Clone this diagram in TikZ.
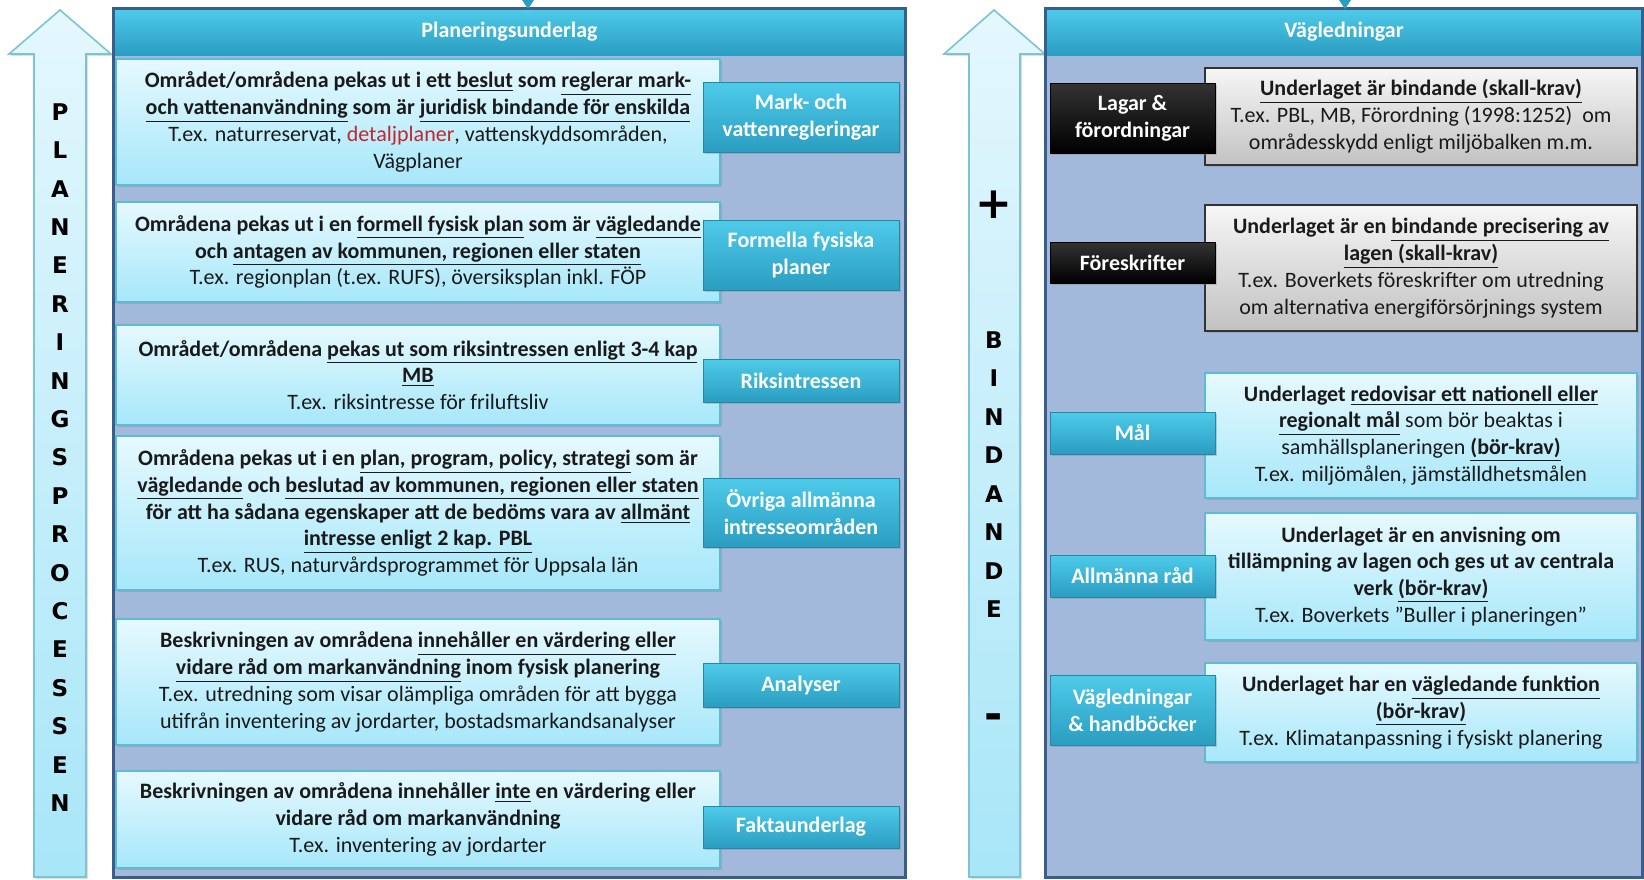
\documentclass[tikz,border=0pt]{standalone}
\usepackage{fontspec}
\setmainfont{Carlito}
\newfontfamily\letterfont{DejaVu Sans}
\usepackage{tikz}
\usetikzlibrary{shadows}

\definecolor{panelfill}{HTML}{A3B9DB}
\definecolor{paneldraw}{HTML}{3A5E8C}
\definecolor{headtop}{HTML}{4FCBEA}
\definecolor{headbot}{HTML}{2A9DC0}
\definecolor{btnline}{HTML}{2388A8}
\definecolor{boxtop}{HTML}{E6F9FE}
\definecolor{boxbot}{HTML}{A6E7FA}
\definecolor{boxdraw}{HTML}{5CBCD5}
\definecolor{arrowtop}{HTML}{E4F7FD}
\definecolor{arrowbot}{HTML}{A8E6F8}
\definecolor{arrowline}{HTML}{7CC3D4}
\definecolor{greytop}{HTML}{F6F6F6}
\definecolor{greybot}{HTML}{C2C2C2}
\definecolor{detred}{HTML}{C4262E}
\definecolor{textgrey}{HTML}{1A1A1A}

\newcommand{\undl}[1]{\underline{#1}}

\tikzset{
  panel/.style={fill=panelfill, inner sep=0pt},
  panelhead/.style={top color=headtop, bottom color=headbot, text=white,
    font=\fontsize{11}{13}\selectfont\bfseries, inner sep=0pt},
  plainbox/.style={draw=boxdraw, line width=0.6pt, top color=boxtop, bottom color=boxbot,
    align=center, inner sep=0pt, text=textgrey,
    drop shadow={shadow xshift=1pt, shadow yshift=-1.2pt, opacity=0.3}},
  leftbox/.style={plainbox, minimum width=302pt},
  greybox/.style={plainbox, draw=black!80, top color=greytop, bottom color=greybot},
  tabbtn/.style={draw=btnline, line width=0.5pt, top color=headtop, bottom color=headbot,
    text=white, align=center, inner sep=0pt, minimum width=98pt,
    font=\fontsize{11}{13.4}\selectfont\bfseries,
    drop shadow={shadow xshift=1pt, shadow yshift=-1.2pt, opacity=0.35}},
  blackbtn/.style={tabbtn, minimum width=82.5pt, draw=black, top color=black!80, bottom color=black},
  bigarrow/.style={draw=arrowline, line width=0.8pt, top color=arrowtop, bottom color=arrowbot,
    drop shadow={shadow xshift=1pt, shadow yshift=-1pt, opacity=0.25}},
  arrowletter/.style={font=\letterfont\fontsize{11.5}{13}\selectfont\bfseries, inner sep=0pt},
  signletter/.style={font=\letterfont\fontsize{22}{24}\selectfont\bfseries, inner sep=0pt},
}

\begin{document}
\begin{tikzpicture}[x=0.5pt, y=-0.5pt, font=\fontsize{11}{13.4}\selectfont]
\useasboundingbox (0,0) rectangle (1644,879);

% arrows
\draw[bigarrow] (34,877) -- (34,54) -- (9,54) -- (60,10) -- (111,54) -- (86,54) -- (86,877) -- cycle;
\draw[bigarrow] (969,877) -- (969,54) -- (944,54) -- (994,10) -- (1045,54) -- (1020,54) -- (1020,877) -- cycle;

\foreach \ch [count=\i from 0] in {P,L,A,N,E,R,I,N,G,S,P,R,O,C,E,S,S,E,N}
  \node[arrowletter] (proc\i) at (60,112+38.4*\i) {\ch};
\node[signletter] (plus) at (994,205) {+};
\foreach \ch [count=\i from 0] in {B,I,N,D,A,N,D,E}
  \node[arrowletter] (bind\i) at (994,340+38.5*\i) {\ch};
\node[signletter] (minus) at (994,722) {-};

% panels
\node[panel, minimum width=395.5pt, minimum height=434pt] (planpanel) at (509.5,443) {};
\node[panelhead, minimum width=395.5pt, minimum height=23pt] (planhead) at (509.5,32) {Planeringsunderlag};
\draw[paneldraw, line width=1.5pt] (planpanel.north west) rectangle (planpanel.south east);
\node[panel, minimum width=298pt, minimum height=434pt] (guidepanel) at (1344,443) {};
\node[panelhead, minimum width=298pt, minimum height=23pt] (guidehead) at (1344,32) {Vägledningar};
\draw[paneldraw, line width=1.5pt] (guidepanel.north west) rectangle (guidepanel.south east);
\fill[headbot] (522,0) -- (534,0) -- (528,9) -- cycle;
\fill[headbot] (1339,0) -- (1351,0) -- (1345,9) -- cycle;

% left boxes
\node[leftbox, minimum height=63pt] (mark) at (418,122) {%
  \textbf{Området/områdena pekas ut i ett \undl{beslut} som \undl{reglerar mark-}}\\
  \textbf{\undl{och vattenanvändning} som är \undl{juridisk bindande för enskilda}}\\
  T.ex. naturreservat, \textcolor{detred}{detaljplaner}, vattenskyddsområden,\\
  Vägplaner};
\node[leftbox, minimum height=50pt] (formell) at (418,252) {%
  \textbf{Områdena pekas ut i en \undl{formell fysisk plan} som är \undl{vägledande}}\\
  \textbf{och \undl{antagen av kommunen, regionen eller staten}}\\
  T.ex. regionplan (t.ex. RUFS), översiksplan inkl. FÖP};
\node[leftbox, minimum height=50pt] (riks) at (418,375) {%
  \textbf{Området/områdena \undl{pekas ut som riksintressen enligt 3-4 kap}}\\
  \textbf{\undl{MB}}\\
  T.ex. riksintresse för friluftsliv};
\node[leftbox, minimum height=77pt] (ovriga) at (418,513) {%
  \textbf{Områdena pekas ut i en \undl{plan, program, policy, strategi} som är}\\
  \textbf{\undl{vägledande} och \undl{beslutad av kommunen, regionen eller staten}}\\
  \textbf{för att ha sådana egenskaper att de bedöms vara av \undl{allmänt}}\\
  \textbf{\undl{intresse enligt 2 kap. PBL}}\\
  T.ex. RUS, naturvårdsprogrammet för Uppsala län};
\node[leftbox, minimum height=63pt] (analys) at (418,682) {%
  \textbf{Beskrivningen av områdena \undl{innehåller en värdering eller}}\\
  \textbf{\undl{vidare råd om markanvändning} inom fysisk planering}\\
  T.ex. utredning som visar olämpliga områden för att bygga\\
  utifrån inventering av jordarter, bostadsmarkandsanalyser};
\node[leftbox, minimum height=48.5pt] (fakta) at (418,819.5) {%
  \textbf{Beskrivningen av områdena innehåller \undl{inte} en värdering eller}\\
  \textbf{vidare råd om markanvändning}\\
  T.ex. inventering av jordarter};

\node[tabbtn, minimum height=35pt] (markbtn) at (801,117) {Mark- och\\vattenregleringar};
\node[tabbtn, minimum height=35pt] (formellbtn) at (801,255) {Formella fysiska\\planer};
\node[tabbtn, minimum height=21.5pt] (riksbtn) at (801,380.5) {Riksintressen};
\node[tabbtn, minimum height=34.5pt] (ovrigabtn) at (801,512.5) {Övriga allmänna\\intresseområden};
\node[tabbtn, minimum height=22pt] (analysbtn) at (801,685) {Analyser};
\node[tabbtn, minimum height=21pt] (faktabtn) at (801,827) {Faktaunderlag};

% right boxes
\node[greybox, minimum width=216pt, minimum height=48.5pt] (lagar) at (1421,116.5) {%
  \textbf{\undl{Underlaget är bindande (skall-krav)}}\\
  T.ex. PBL, MB, Förordning (1998:1252)\ \ om\\
  områdesskydd enligt miljöbalken m.m.};
\node[greybox, minimum width=216pt, minimum height=63pt] (foreskr) at (1421,268) {%
  \textbf{Underlaget är en \undl{bindande precisering av}}\\
  \textbf{\undl{lagen (skall-krav)}}\\
  T.ex. Boverkets föreskrifter om utredning\\
  om alternativa energiförsörjnings system};
\node[plainbox, minimum width=216pt, minimum height=62.5pt] (mal) at (1421,435.5) {%
  \textbf{Underlaget \undl{redovisar ett nationell eller}}\\
  \textbf{\undl{regionalt mål}} som bör beaktas i\\
  samhällsplaneringen \textbf{\undl{(bör-krav)}}\\
  T.ex. miljömålen, jämställdhetsmålen};
\node[plainbox, minimum width=216pt, minimum height=63.5pt] (allmanna) at (1421,576.5) {%
  \textbf{Underlaget är en anvisning om}\\
  \textbf{tillämpning av lagen och ges ut av centrala}\\
  \textbf{verk \undl{(bör-krav)}}\\
  T.ex. Boverkets ”Buller i planeringen”};
\node[plainbox, minimum width=216pt, minimum height=49.5pt] (vagl) at (1421,712.5) {%
  \textbf{Underlaget har en \undl{vägledande funktion}}\\
  \textbf{\undl{(bör-krav)}}\\
  T.ex. Klimatanpassning i fysiskt planering};

\node[blackbtn, minimum height=35pt] (lagarbtn) at (1132.5,118) {Lagar \&\\förordningar};
\node[blackbtn, minimum height=20.5pt] (foreskrbtn) at (1132.5,262.5) {Föreskrifter};
\node[tabbtn, minimum width=82.5pt, minimum height=21pt] (malbtn) at (1132.5,433) {Mål};
\node[tabbtn, minimum width=82.5pt, minimum height=21pt] (allmannabtn) at (1132.5,576) {Allmänna råd};
\node[tabbtn, minimum width=82.5pt, minimum height=35pt] (vaglbtn) at (1132.5,710) {Vägledningar\\\& handböcker};
\end{tikzpicture}
\end{document}
